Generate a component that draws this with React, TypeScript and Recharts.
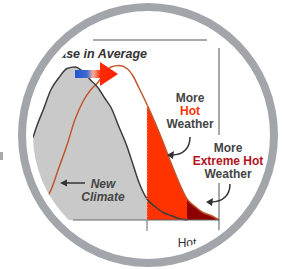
import { ComposedChart, Area, Line, XAxis, YAxis, ReferenceLine, ReferenceDot } from 'recharts';

// temperature index along the bottom axis
const temps = [3, 5, 8, 12, 16, 20, 24, 28, 32, 35, 39, 42, 46, 50, 53, 56, 60, 64, 68, 72, 76, 80, 84, 88, 92, 96];
// how often each temperature happens, old and shifted climate
const pastClimate = [55, 63, 73, 87, 95, 101, 102, 99, 93, 89, 81, 75, 62, 49, 37, 25, 14, 9, 5, 3, 1, 0, null, null, null, null];
const newClimate = [3, 7, 11, 20, 35, 50, 67, 79, 87, 91, 98, 102, 103, 101, 96, 88, 77, 65, 52, 38, 25, 14, 9, 5, 3, 0];

const HOT_FROM = 60;
const EXTREME_FROM = 80;
const AXIS_END = 96;

const data = temps.map((t, i) => ({
    t,
    past: pastClimate[i],
    next: newClimate[i],
    pastFill: t <= HOT_FROM ? pastClimate[i] : null,
    hot: t >= HOT_FROM && t <= EXTREME_FROM ? newClimate[i] : null,
    extreme: t >= EXTREME_FROM ? newClimate[i] : null,
}));

const FONT = '"Liberation Sans", Arial, sans-serif';

const Lines = (rows: { text: string; fill: string }[], italic = false) => (props: any) => (
    <text x={props.cx} y={props.cy} textAnchor="middle" fontFamily={FONT} fontSize={12} fontWeight="bold" fontStyle={italic ? 'italic' : 'normal'}>
        {rows.map((r, i) => (
            <tspan key={i} x={props.cx} dy={i === 0 ? 0 : 13} fill={r.fill}>{r.text}</tspan>
        ))}
    </text>
);

const CurvedArrow = (dx: number, dy: number) => (props: any) => {
    const { cx, cy } = props;
    const ex = cx + dx;
    const ey = cy + dy;
    return (
        <g>
            <path d={`M${cx},${cy} C${cx},${cy + dy * 0.6} ${cx + dx * 0.3},${ey} ${ex + 3},${ey}`} fill="none" stroke="#333" strokeWidth={1.5} />
            <path d={`M${ex - 2},${ey} L${ex + 5},${ey - 4} L${ex + 4},${ey + 4} Z`} fill="#333" />
        </g>
    );
};

const StraightArrow = (props: any) => {
    const { cx, cy } = props;
    return (
        <g>
            <line x1={cx} y1={cy} x2={cx - 20} y2={cy} stroke="#333" strokeWidth={1.5} />
            <path d={`M${cx - 25},${cy} L${cx - 18},${cy - 3.5} L${cx - 18},${cy + 3.5} Z`} fill="#333" />
        </g>
    );
};

const ShiftArrow = (props: any) => {
    const { cx, cy } = props;
    return (
        <path
            d={`M${cx - 34},${cy - 4} L${cx - 9},${cy - 4} L${cx - 9},${cy - 12} L${cx + 9},${cy} L${cx - 9},${cy + 12} L${cx - 9},${cy + 4} L${cx - 34},${cy + 4} Z`}
            fill="url(#shiftGrad)"
        />
    );
};

export default function App() {
    return (
        <div style={{ position: 'absolute', left: 0, top: 0, width: 284, height: 269, background: '#fff' }}>
            <div style={{ position: 'absolute', left: 0, top: 152, width: 3, height: 8, background: '#aaa' }} />
            <div style={{ position: 'absolute', left: 0, top: 0, clipPath: 'ellipse(117px 118px at 150px 135px)' }}>
                <ComposedChart width={284} height={269} data={data} margin={{ top: 40, right: 57, bottom: 49, left: 27 }}>
                    <defs>
                        <linearGradient id="shiftGrad" x1="0" y1="0" x2="1" y2="0">
                            <stop offset="0" stopColor="#1f56d0" />
                            <stop offset="0.28" stopColor="#3f6ad0" />
                            <stop offset="0.42" stopColor="#f3b0a0" />
                            <stop offset="0.6" stopColor="#ff2a00" />
                            <stop offset="1" stopColor="#ff2200" />
                        </linearGradient>
                    </defs>
                    <XAxis type="number" dataKey="t" domain={[0, 100]} hide />
                    <YAxis type="number" domain={[0, 120]} hide />
                    <Area type="monotone" dataKey="pastFill" stroke="none" fill="#c9c9c9" fillOpacity={1} isAnimationActive={false} />
                    <Area type="monotone" dataKey="hot" stroke="none" fill="#ff3300" fillOpacity={1} isAnimationActive={false} />
                    <Area type="monotone" dataKey="extreme" stroke="none" fill="#8e0000" fillOpacity={1} isAnimationActive={false} />
                    <Line type="monotone" dataKey="next" stroke="#c2562c" strokeWidth={1.5} dot={false} activeDot={false} isAnimationActive={false} />
                    <Line type="monotone" dataKey="past" stroke="#3c3c3c" strokeWidth={1.5} dot={false} activeDot={false} isAnimationActive={false} />

                    <ReferenceLine segment={[{ x: 23, y: 0 }, { x: AXIS_END, y: 0 }]} stroke="#666" strokeWidth={1.2} ifOverflow="visible" />
                    <ReferenceLine segment={[{ x: 33, y: 120 }, { x: 90, y: 120 }]} stroke="#555" strokeWidth={1} ifOverflow="visible" />
                    <ReferenceLine segment={[{ x: AXIS_END, y: 114.7 }, { x: AXIS_END, y: 56.7 }]} stroke="#555" strokeWidth={1} ifOverflow="visible" />
                    <ReferenceLine segment={[{ x: AXIS_END, y: 24.7 }, { x: AXIS_END, y: -8 }]} stroke="#555" strokeWidth={1} ifOverflow="visible" />
                    <ReferenceLine segment={[{ x: HOT_FROM, y: 0 }, { x: HOT_FROM, y: -7.3 }]} stroke="#666" strokeWidth={1} ifOverflow="visible" />
                    <ReferenceLine segment={[{ x: HOT_FROM, y: 0 }, { x: HOT_FROM, y: 76.7 }]} stroke="#ffb4a0" strokeWidth={1} strokeDasharray="1 2" ifOverflow="visible" />

                    <ReferenceDot x={41} y={97.3} r={0} ifOverflow="visible" shape={ShiftArrow} />
                    <ReferenceDot x={60} y={108} r={0} ifOverflow="visible" shape={(p: any) => (
                        <text x={p.cx} y={p.cy} textAnchor="end" fontFamily={FONT} fontSize={12.5} fontWeight="bold" fontStyle="italic" fill="#333">Increase in Average</text>
                    )} />
                    <ReferenceDot x={81.5} y={78.7} r={0} ifOverflow="visible" shape={Lines([
                        { text: 'More', fill: '#444' },
                        { text: 'Hot', fill: '#ff3300' },
                        { text: 'Weather', fill: '#444' },
                    ])} />
                    <ReferenceDot x={81.5} y={55.3} r={0} ifOverflow="visible" shape={CurvedArrow(-21, 18)} />
                    <ReferenceDot x={100.5} y={45.3} r={0} ifOverflow="visible" shape={Lines([
                        { text: 'More', fill: '#444' },
                        { text: 'Extreme Hot', fill: '#b5121b' },
                        { text: 'Weather', fill: '#444' },
                    ])} />
                    <ReferenceDot x={101.5} y={24} r={0} ifOverflow="visible" shape={CurvedArrow(-22, 18)} />
                    <ReferenceDot x={38} y={21.3} r={0} ifOverflow="visible" shape={Lines([
                        { text: 'New', fill: '#444' },
                        { text: 'Climate', fill: '#444' },
                    ], true)} />
                    <ReferenceDot x={29} y={24.7} r={0} ifOverflow="visible" shape={StraightArrow} />
                    <ReferenceDot x={80} y={-18} r={0} ifOverflow="visible" shape={(p: any) => (
                        <text x={p.cx} y={p.cy} textAnchor="middle" fontFamily={FONT} fontSize={12} fill="#333">Hot</text>
                    )} />
                </ComposedChart>
            </div>
            <div style={{ position: 'absolute', left: 18, top: 3, width: 260, height: 264, boxSizing: 'border-box', border: '8px solid #a2a6aa', borderRadius: '50%' }} />
        </div>
    );
}
